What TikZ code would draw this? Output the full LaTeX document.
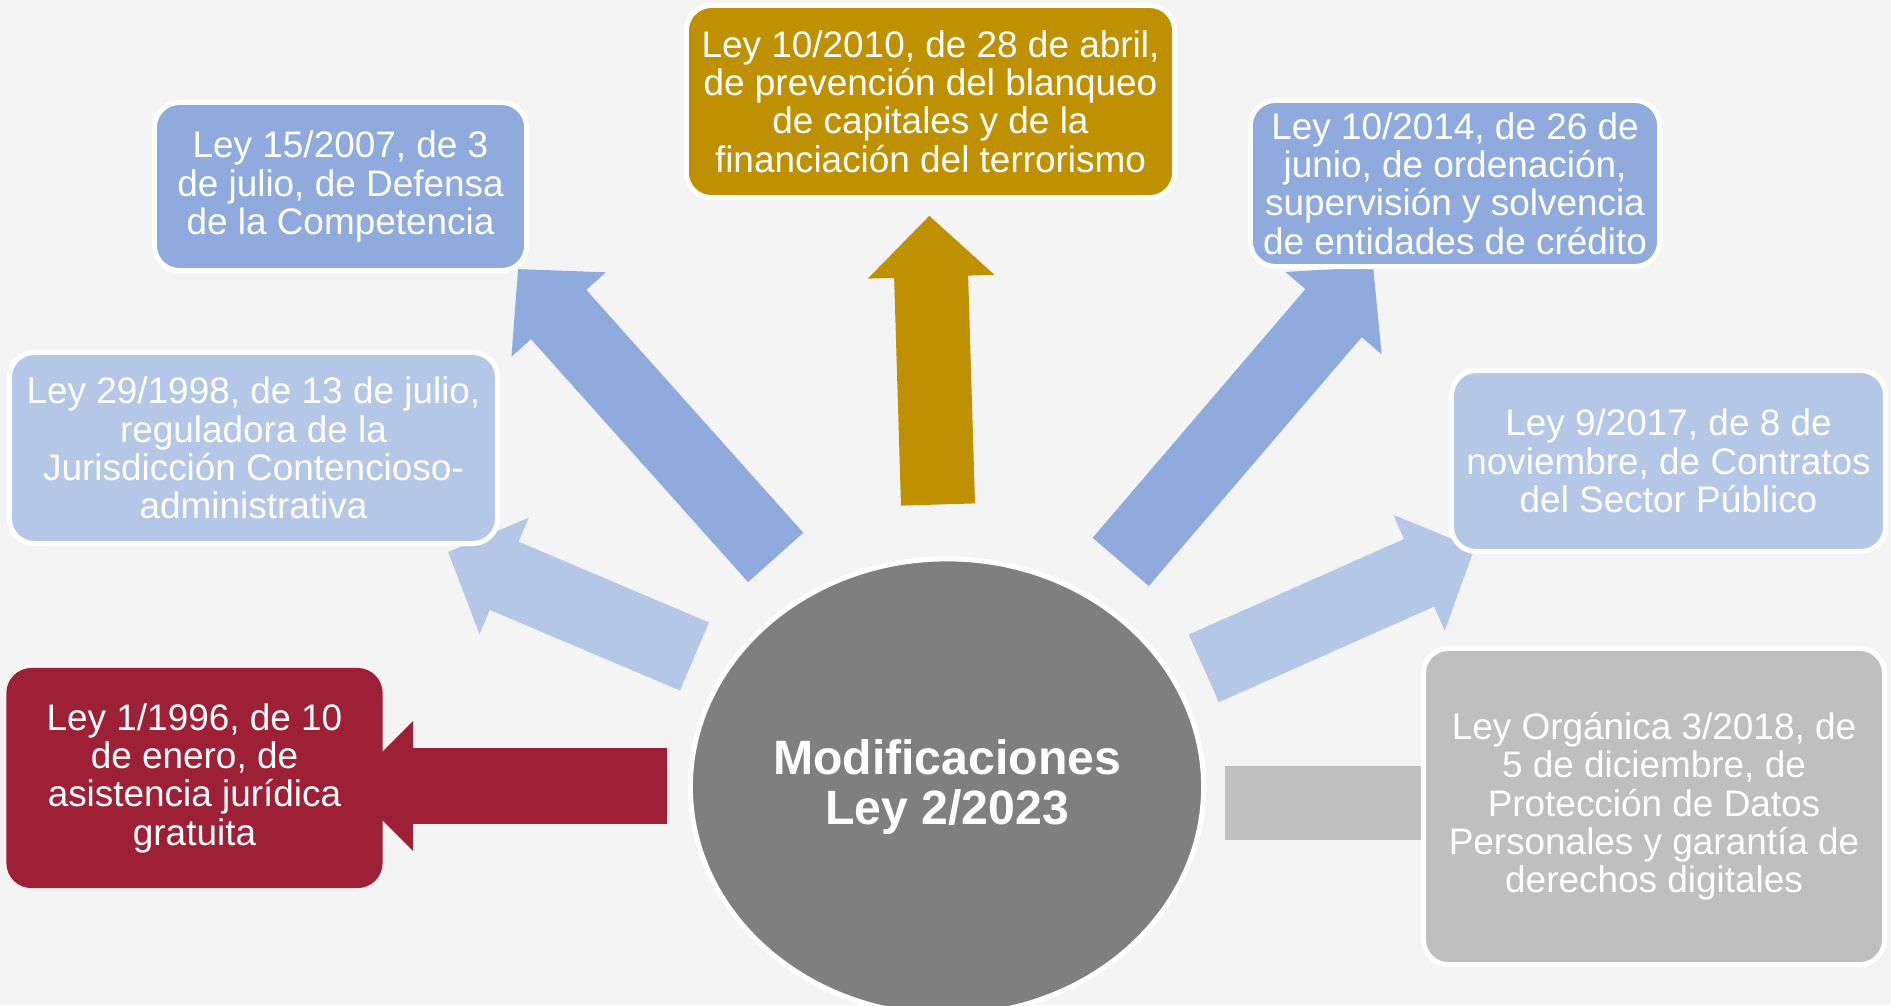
\documentclass[tikz,border=0pt]{standalone}
\usepackage{fontspec}
\setmainfont{Liberation Sans}
\usetikzlibrary{shapes.geometric,arrows.meta}

\definecolor{bgcol}{HTML}{F4F4F4}
\definecolor{leyred}{HTML}{9E2036}
\definecolor{leygold}{HTML}{BF9000}
\definecolor{leyblue}{HTML}{8FAADC}
\definecolor{leylight}{HTML}{B4C7E7}
\definecolor{leygray}{HTML}{BFBFBF}
\definecolor{centergray}{HTML}{7F7F7F}

\begin{document}
\begin{tikzpicture}[x=0.01cm, y=-0.01cm,
			ley/.style={rectangle, rounded corners=0.25cm, draw=white, line width=0.05cm, text=white, align=center, inner sep=0pt, font=\fontsize{10.5pt}{10.9pt}\selectfont},
			blockarrow/.style={line width=0.74cm, -{Triangle[length=0.61cm, width=1.23cm]}},
			]
			
			\path[use as bounding box, fill=bgcol] (0,0) rectangle (1891,1005);
			
			% Tails and tips of the block arrows
			\coordinate (t1996) at (667,786);    \coordinate (h1996) at (348,786);
			\coordinate (t2010) at (938,504.5);  \coordinate (h2010) at (929.3,215.7);
			\coordinate (t2007) at (775.7,557.4); \coordinate (h2007) at (518,269);
			\coordinate (t1998) at (694.5,656.5); \coordinate (h1998) at (448,552);
			\coordinate (t2014) at (1120.7,561.9); \coordinate (h2014) at (1373.2,266.8);
			\coordinate (t2017) at (1203.8,668.4); \coordinate (h2017) at (1474.8,548);
			\coordinate (t2018) at (1225,803);   \coordinate (h2018) at (1525,803);
			
			% Draw arrows first, boxes go on top of the heads
			\foreach \n/\col in {2010/leygold, 2007/leyblue, 1998/leylight, 2014/leyblue, 2017/leylight, 2018/leygray} {
				\draw[blockarrow, draw=\col] (t\n) -- (h\n);
			}
			\draw[blockarrow, draw=leyred, line width=0.76cm, -{Triangle[length=0.65cm, width=1.26cm]}] (t1996) -- (h1996);
			
			% Center
			\node[ellipse, fill=centergray, draw=white, line width=0.05cm, minimum width=5.13cm, minimum height=4.56cm, inner sep=0pt, text=white, align=center, font=\bfseries\fontsize{13.7pt}{14.4pt}\selectfont] (ley2023) at (947,787) {Modificaciones\\Ley 2/2023};
			
			% Laws around it
			\node[ley, fill=leyred, draw=none, minimum width=3.76cm, minimum height=2.20cm] (ley1996) at (194.5,778) {Ley 1/1996, de 10\\de enero, de\\asistencia jurídica\\gratuita};
			\node[ley, fill=leylight, minimum width=4.88cm, minimum height=1.91cm] (ley1998) at (253.5,448) {Ley 29/1998, de 13 de julio,\\reguladora de la\\Jurisdicción Contencioso-\\administrativa};
			\node[ley, fill=leyblue, minimum width=3.72cm, minimum height=1.68cm] (ley2007) at (340.5,186.5) {Ley 15/2007, de 3\\de julio, de Defensa\\de la Competencia};
			\node[ley, fill=leygold, minimum width=4.88cm, minimum height=1.92cm] (ley2010) at (930.5,101.5) {Ley 10/2010, de 28 de abril,\\de prevención del blanqueo\\de capitales y de la\\financiación del terrorismo};
			\node[ley, fill=leyblue, minimum width=4.09cm, minimum height=1.66cm] (ley2014) at (1455,183.5) {Ley 10/2014, de 26 de\\junio, de ordenación,\\supervisión y solvencia\\de entidades de crédito};
			\node[ley, fill=leylight, minimum width=4.34cm, minimum height=1.81cm] (ley2017) at (1668.5,461) {Ley 9/2017, de 8 de\\noviembre, de Contratos\\del Sector Público};
			\node[ley, fill=leygray, minimum width=4.61cm, minimum height=3.16cm] (ley2018) at (1654,806.5) {Ley Orgánica 3/2018, de\\5 de diciembre, de\\Protección de Datos\\Personales y garantía de\\derechos digitales};
			
		\end{tikzpicture}
\end{document}
